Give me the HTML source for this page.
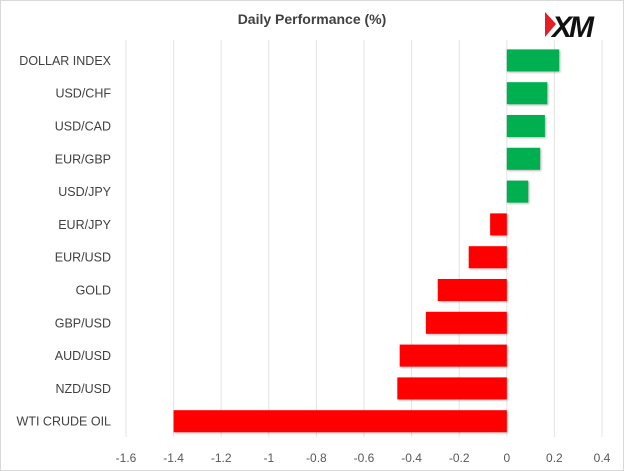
<!DOCTYPE html>
<html><head><meta charset="utf-8"><style>
body{margin:0;background:#fff}
svg{display:block;font-family:"Liberation Sans",Arial,sans-serif}
</style></head><body>
<svg id="c" width="624" height="471">
<rect x="0.5" y="0.5" width="623" height="470" fill="#fff" stroke="#d9d9d9"/>
<text x="312" y="24" text-anchor="middle" font-size="14" font-weight="bold" fill="#404040">Daily Performance (%)</text>
<g>
<polygon points="545,12 556,24 545,37" fill="#e31e24"/>
<text x="552" y="37" font-size="30" font-weight="bold" font-style="italic" fill="#111" letter-spacing="-3">XM</text>
</g>
<g id="grid"></g><g id="bars"></g><g id="labels"></g><g id="ticks"></g>
</svg>
<script>
const categories=["DOLLAR INDEX","USD/CHF","USD/CAD","EUR/GBP","USD/JPY","EUR/JPY","EUR/USD","GOLD","GBP/USD","AUD/USD","NZD/USD","WTI CRUDE OIL"];
const values=[0.22,0.17,0.16,0.14,0.09,-0.07,-0.16,-0.29,-0.34,-0.45,-0.46,-1.40];
const tickValues=[-1.6,-1.4,-1.2,-1,-0.8,-0.6,-0.4,-0.2,0,0.2,0.4];
const tickLabels=["-1.6","-1.4","-1.2","-1","-0.8","-0.6","-0.4","-0.2","0","0.2","0.4"];
const NS="http://www.w3.org/2000/svg";
const xMin=-1.6,xMax=0.4,px0=126,px1=602;
const x=v=>px0+(v-xMin)/(xMax-xMin)*(px1-px0);
const top0=44,step=32.8,bh=22;
const yc=i=>top0+step*i+step/2;
function mk(t,a,p){const e=document.createElementNS(NS,t);for(const k in a)e.setAttribute(k,a[k]);document.getElementById(p).appendChild(e);return e;}
tickValues.forEach((v,i)=>{
 const g=mk('line',{x1:x(v),x2:x(v),y1:40,y2:437,stroke:'#e3e3e3','stroke-width':1},'grid');
 
 
 const t=mk('text',{x:x(v),y:462,'text-anchor':'middle','font-size':12,fill:'#595959'},'ticks');
 t.textContent=tickLabels[i];
 
 
});
categories.forEach((c,i)=>{
 const v=values[i];const a=x(0),b=x(v);
 const r=mk('rect',{x:Math.min(a,b),y:yc(i)-bh/2,width:Math.abs(b-a),height:bh,fill:v>=0?'#00b050':'#ff0000',style:'filter:drop-shadow(1px 1px 1px rgba(0,0,0,0.3))'},'bars');
 
 
 const t=mk('text',{x:111,y:yc(i)+4.5,'text-anchor':'end','font-size':12.5,fill:'#404040'},'labels');
 t.textContent=c;
 
 
});
</script>
</body></html>
